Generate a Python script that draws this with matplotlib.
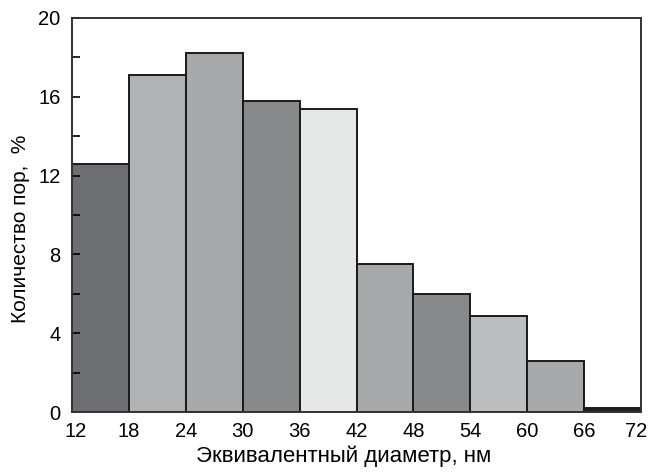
import numpy as np
import matplotlib
matplotlib.use("Agg")
import matplotlib.pyplot as plt
import matplotlib.transforms as mtransforms

# bin edges (nm) and pore share (%)
edges = [12, 18, 24, 30, 36, 42, 48, 54, 60, 66, 72]
share = [12.6, 17.1, 18.2, 15.8, 15.4, 7.5, 6.0, 4.85, 2.6, 0.2]
colors = ["#6d6e71", "#b0b2b4", "#a7a9ab", "#88898b", "#e6e7e7",
          "#a7a9ab", "#88898b", "#bcbec0", "#a7a9ab", "#231f20"]

plt.rcParams['font.family'] = ['Liberation Sans', 'DejaVu Sans']

fig = plt.figure(figsize=(6.53, 4.72), dpi=100)
ax = fig.add_axes([0.110, 0.127, 0.872, 0.835])

left = np.array(edges[:-1])
width = np.diff(edges)
ax.bar(left, share, width=width, align="edge", color=colors,
       edgecolor="#1a1a1a", linewidth=1.4)

ax.set_xlim(12, 72)
ax.set_ylim(0, 20)
ax.set_xticks(edges)
ax.set_yticks(range(0, 21, 4))
ax.set_yticks(range(2, 20, 4), minor=True)
ax.tick_params(axis="y", which="both", direction="in", length=6, width=1.2,
               labelsize=14.5, pad=8)
ax.tick_params(axis="x", length=0, labelsize=14.5, pad=7)
for s in ax.spines.values():
    s.set_linewidth(1.4)
    s.set_color("#333333")

# nudge the edge tick labels inward like the original
fig.canvas.draw()
xl = ax.get_xticklabels()
xl[0].set_transform(xl[0].get_transform() + mtransforms.ScaledTranslation(4/100, 0, fig.dpi_scale_trans))
xl[-1].set_transform(xl[-1].get_transform() + mtransforms.ScaledTranslation(-5/100, 0, fig.dpi_scale_trans))

ax.set_xlabel("Эквивалентный диаметр, нм", fontsize=16)
ax.set_ylabel("Количество пор,  %", fontsize=15)
ax.xaxis.set_label_coords(0.478, -0.085)
ax.yaxis.set_label_coords(-0.073, 0.464)

fig.savefig("out.png", dpi=100)
